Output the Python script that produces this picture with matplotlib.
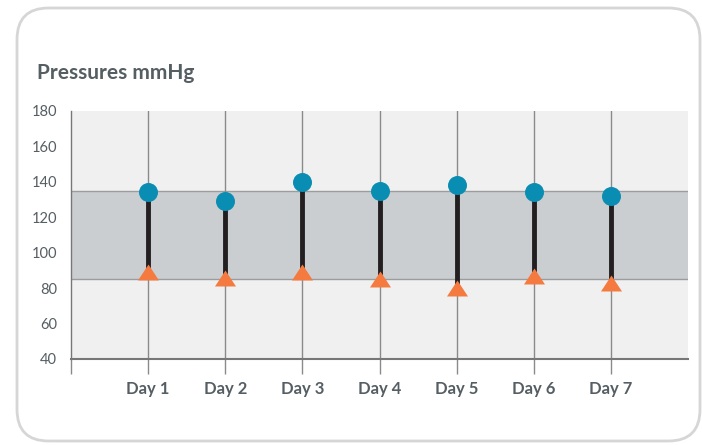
#Imports:
import matplotlib
matplotlib.use("Agg")
import matplotlib.pyplot as plt
from matplotlib.patches import FancyBboxPatch

#Data:
days = ["Day 1", "Day 2", "Day 3", "Day 4", "Day 5", "Day 6", "Day 7"]
systolic = [134, 129, 140, 135, 138, 134, 132]
diastolic = [89, 86, 89, 85, 80, 87, 83]
band_low, band_high = 85, 135
y_ticks = [40, 60, 80, 100, 120, 140, 160, 180]

text_col = "#555e63"
W, H = 702, 445

fig = plt.figure(figsize=(W / 100, H / 100), dpi=100)
fig.patch.set_facecolor("white")

#Rounded card behind the chart:
card = FancyBboxPatch((17 / W, 4 / H), (700 - 17) / W, (437 - 4) / H,
                      boxstyle="round,pad=0,rounding_size=0.045",
                      transform=fig.transFigure, facecolor="white",
                      edgecolor="#d6d6d6", linewidth=2, mutation_aspect=W / H,
                      zorder=-5)
fig.patches.append(card)

fig.text(37 / W, 1 - 73 / H, "Pressures mmHg", fontsize=15, fontweight="bold",
         color=text_col, family="Lato", va="center", ha="left")

ax = fig.add_axes([71 / W, (H - 359) / H, (688 - 71) / W, (359 - 111) / H])
ax.set_facecolor("#f0f0f0")
x = list(range(1, len(days) + 1))

ax.axhspan(band_low, band_high, color="#cbced1", zorder=1, linewidth=0)
ax.axhline(band_low, color="#9a9c9e", lw=1, zorder=1.5)
ax.axhline(band_high, color="#9a9c9e", lw=1, zorder=1.5)

for xi in x:
    ax.axvline(xi, color="#8a8a8a", lw=1, zorder=2)

ax.vlines(x, diastolic, systolic, color="#231f20", lw=3.5, zorder=3)
ax.scatter(x, systolic, s=(19 * 0.72) ** 2, color="#0a8db2", zorder=4, linewidths=0)
tri = [(-1, -0.76), (1, -0.76), (0, 0.76)]
ax.scatter(x, diastolic, marker=tri, s=(21 * 0.72) ** 2, color="#f47a3f", zorder=4, linewidths=0)

ax.set_xlim(0, 8)
ax.set_ylim(40, 180)
ax.set_yticks(y_ticks)
ax.set_yticklabels([str(v) for v in y_ticks], fontsize=10.5, color=text_col, family="Lato")
ax.set_xticks([0] + x)
ax.set_xticklabels([""] + days, fontsize=12, fontweight="bold", color=text_col, family="Lato")
ax.tick_params(axis="y", length=0, pad=10)
ax.tick_params(axis="x", length=11, width=1, color="#8a8a8a", pad=5)

for s in ["top", "right"]:
    ax.spines[s].set_visible(False)
ax.spines["left"].set_color("#777777")
ax.spines["bottom"].set_color("#777777")
ax.spines["bottom"].set_linewidth(1.5)
ax.spines["left"].set_linewidth(1)

fig.savefig("out.png", dpi=100)
